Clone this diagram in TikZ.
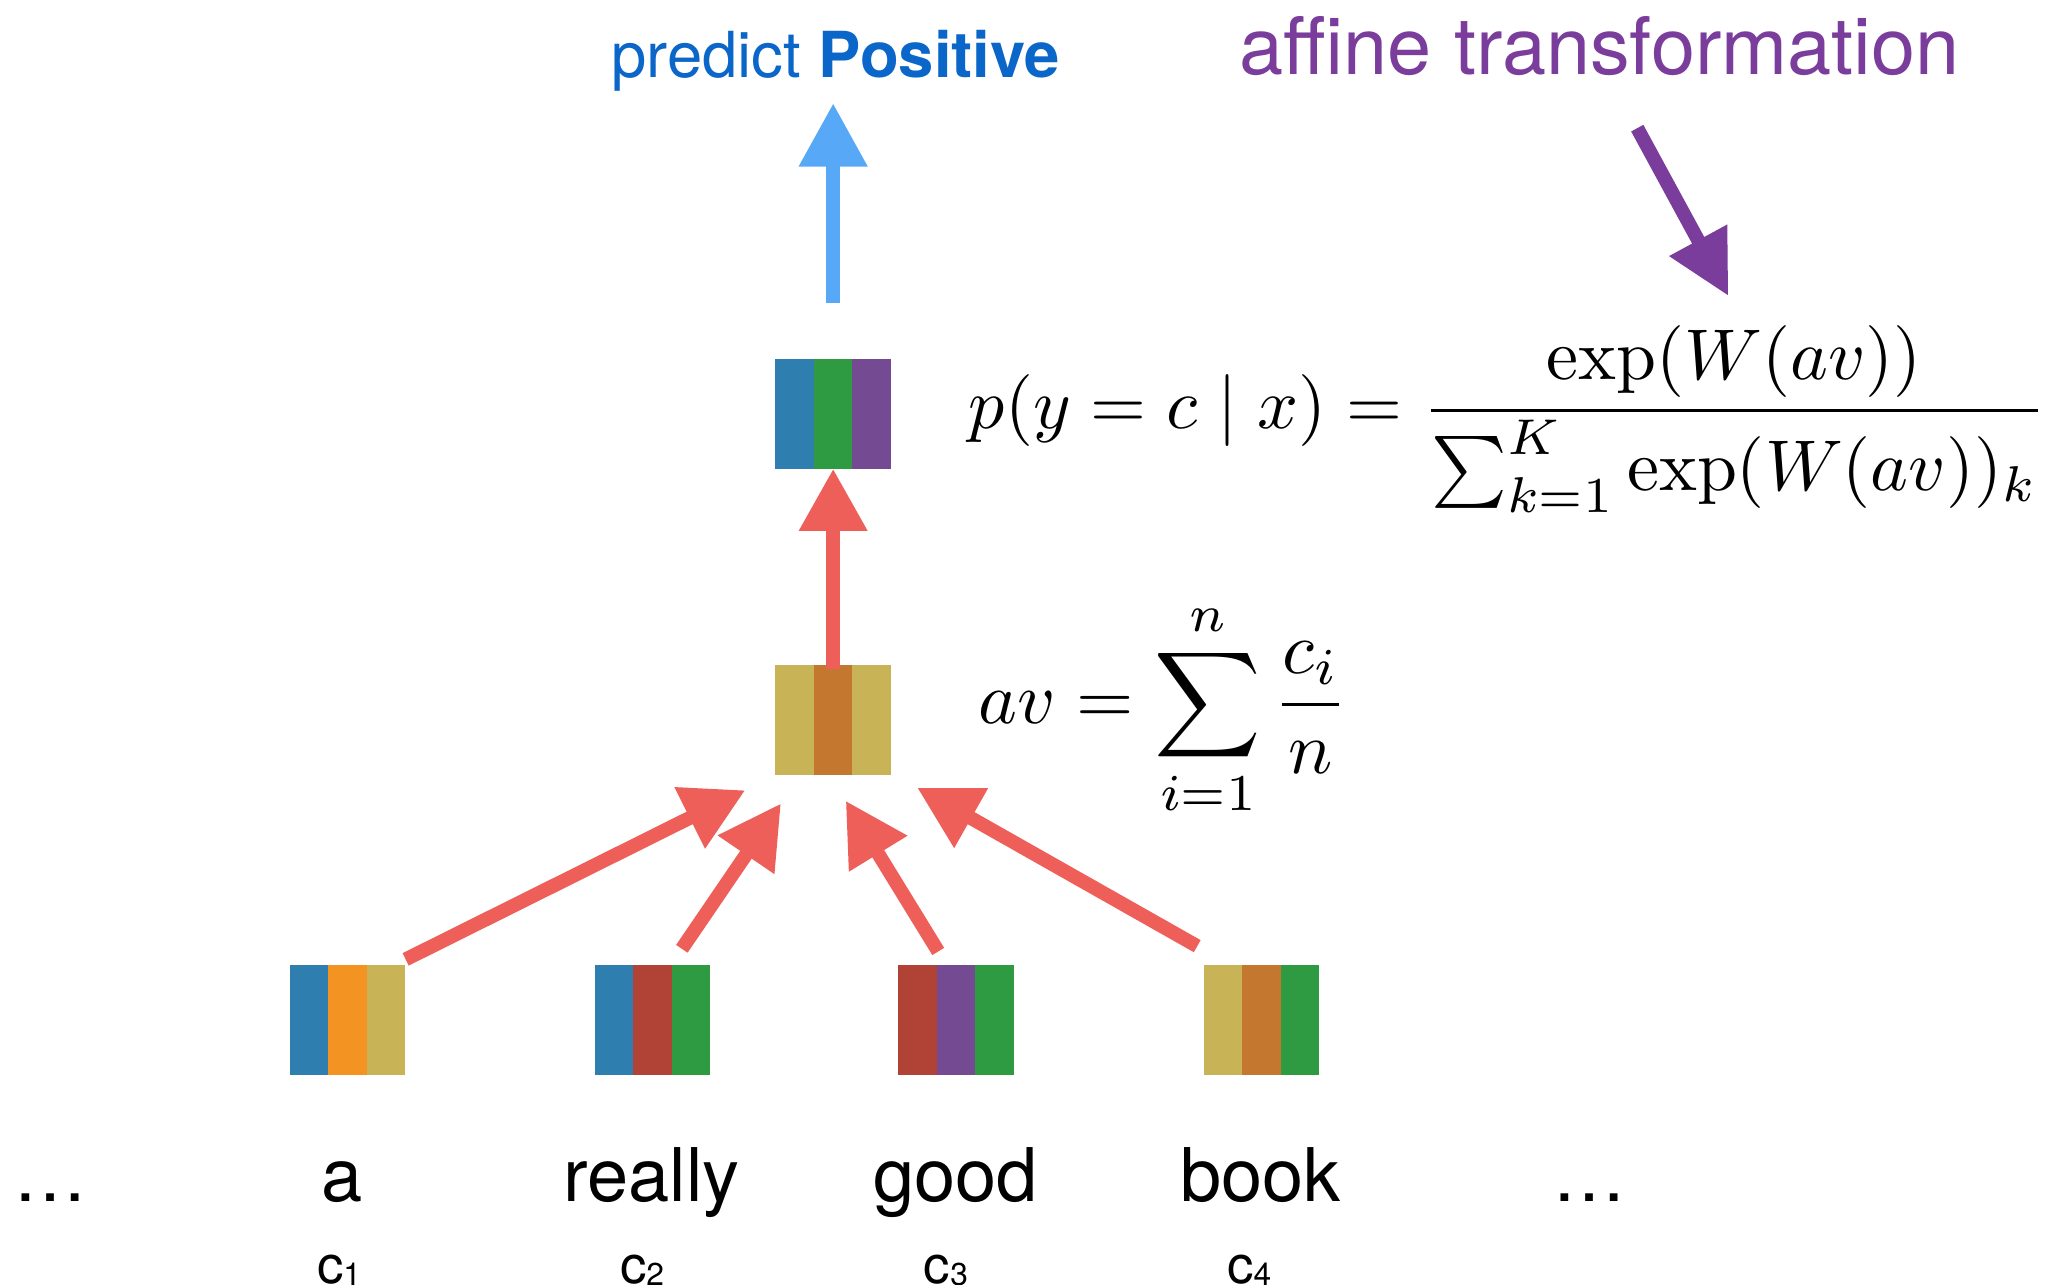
\documentclass[tikz,border=0pt]{standalone}
\usepackage[no-math]{fontspec}
\usepackage{amsmath}
\usepackage{graphicx}
\newfontfamily\hel{TeX Gyre Heros}
\usetikzlibrary{arrows.meta,calc}
\definecolor{sblue}{HTML}{2F7EB0}
\definecolor{sorange}{HTML}{F39322}
\definecolor{syellow}{HTML}{C8B456}
\definecolor{sred}{HTML}{B04335}
\definecolor{sgreen}{HTML}{2E9B42}
\definecolor{spurple}{HTML}{744A92}
\definecolor{sbrown}{HTML}{C3772F}
\definecolor{redc}{HTML}{EE5F5A}
\definecolor{bluec}{HTML}{57A9F8}
\definecolor{purplec}{HTML}{7A3D9C}
\definecolor{textblue}{HTML}{0A66C8}
\newcommand\mystripes[4]{%
  \fill[#2] (#1.north west) rectangle ($(#1.south west)!1/3!(#1.south east)$);
  \fill[#3] ($(#1.north west)!1/3!(#1.north east)$) rectangle ($(#1.south west)!2/3!(#1.south east)$);
  \fill[#4] ($(#1.north west)!2/3!(#1.north east)$) rectangle (#1.south east);}
\begin{document}
\begin{tikzpicture}[x=1pt,y=-1pt,
  vecbox/.style={inner sep=0pt, minimum width=87pt, minimum height=83pt},
  redarrow/.style={draw=redc, line width=10.5pt, -{Triangle[length=47pt,width=49pt]}},
  bluearrow/.style={draw=bluec, line width=11pt, -{Triangle[length=48pt,width=49pt]}},
  purplearrow/.style={draw=purplec, line width=10.5pt, -{Triangle[length=48pt,width=47pt]}},
  word/.style={font=\hel\fontsize{56}{60}\selectfont, anchor=base, inner sep=0pt},
  clab/.style={font=\hel\fontsize{40}{44}\selectfont, anchor=base west, inner sep=0pt},
  formula/.style={anchor=west, inner sep=0pt}]
\useasboundingbox (0,0) rectangle (1568,972);
\fill[white] (0,0) rectangle (1568,972);

% vectors
\node[vecbox] (v1) at (263,772) {};
\node[vecbox] (v2) at (493.6,772) {};
\node[vecbox] (v3) at (723.5,772) {};
\node[vecbox] (v4) at (954.5,772) {};
\node[vecbox] (avg) at (630.5,545) {};
\node[vecbox] (out) at (630.5,313) {};
\mystripes{v1}{sblue}{sorange}{syellow}
\mystripes{v2}{sblue}{sred}{sgreen}
\mystripes{v3}{sred}{spurple}{sgreen}
\mystripes{v4}{syellow}{sbrown}{sgreen}
\mystripes{avg}{syellow}{sbrown}{syellow}
\mystripes{out}{sblue}{sgreen}{spurple}

% words
\node[word] (dl) at (38.5,909.5) {\dots};
\node[word] (wa) at (259,909.5) {a};
\node[word] (wr) at (493,909.5) {really};
\node[word] (wg) at (723,909.5) {good};
\node[word] (wb) at (954,909.5) {book};
\node[word] (dr) at (1203,909.5) {\dots};

\newcommand\csub[1]{\raisebox{-2pt}{\fontsize{24}{26}\selectfont #1}}
\node[clab] (c1) at (239.7,971) {c\csub{1}};
\node[clab] (c2) at (469,971) {c\csub{2}};
\node[clab] (c3) at (699,971) {c\csub{3}};
\node[clab] (c4) at (928.5,971) {c\csub{4}};

% labels
\node[anchor=base, inner sep=0pt, text=textblue, font=\hel\fontsize{48}{52}\selectfont] (pred) at (632.5,58.6) {predict \textbf{Positive}};
\node[anchor=base, inner sep=0pt, text=purplec, font=\hel\fontsize{60}{64}\selectfont] (aff) at (1210.5,56) {affine transformation};

% formulas
\node[formula] (pf) at (733,317) {\resizebox{815pt}{!}{$\displaystyle p(y=c\mid x)=\frac{\exp(W(av))}{\sum_{k=1}^{K}\exp(W(av))_k}$}};
\node[formula] (af) at (740.5,537) {\resizebox{279pt}{!}{$\displaystyle av=\sum_{i=1}^{n}\frac{c_i}{n}$}};

% coordinates
\coordinate (t1) at (307,726);
\coordinate (h1) at (564,598);
\coordinate (t2) at (516,718);
\coordinate (h2) at (591,608);
\coordinate (t3) at (710,720);
\coordinate (h3) at (640,606);
\coordinate (t4) at (906,716);
\coordinate (h4) at (694,596);
\coordinate (btail) at (630.5,229);
\coordinate (btip) at (630.5,78);
\coordinate (ptail) at (1239,97);
\coordinate (ptip) at (1308,224);

% arrows
\draw[redarrow] (t1) -- (h1);
\draw[redarrow] (t2) -- (h2);
\draw[redarrow] (t3) -- (h3);
\draw[redarrow] (t4) -- (h4);
\draw[redarrow] ([yshift=-3pt]avg.north) -- (out.south);
\draw[bluearrow] (btail) -- (btip);
\draw[purplearrow] (ptail) -- (ptip);
\end{tikzpicture}
\end{document}
